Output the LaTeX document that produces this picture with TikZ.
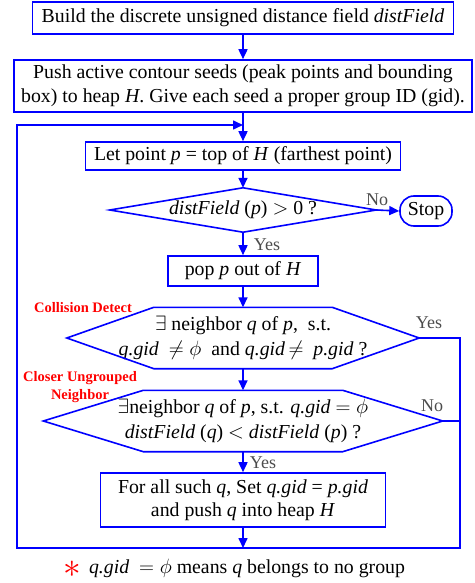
\documentclass[tikz,border=0pt]{standalone}
\usepackage{graphicx}
\usepackage{fontspec}
\setmainfont{Liberation Serif}
\usetikzlibrary{arrows.meta,calc}
\definecolor{fblue}{RGB}{0,0,255}
\begin{document}
\begin{tikzpicture}[x=1pt,y=-1pt,
  box/.style={draw=fblue, line width=1.6pt, inner sep=0pt, align=center, font=\fontsize{19.8}{23.5}\selectfont},
  shapein/.style={inner sep=0pt, align=center, font=\fontsize{19.8}{24.5}\selectfont},
  arr/.style={draw=fblue, line width=1.6pt, -{Triangle[length=10pt,width=9pt]}},
  ln/.style={draw=fblue, line width=1.6pt},
  lbl/.style={text=black!70, font=\fontsize{18}{18}\selectfont, inner sep=0pt},
  redlbl/.style={text=red, font=\fontsize{14.5}{18.5}\selectfont\bfseries, inner sep=0pt, align=center}]
\useasboundingbox (0,0) rectangle (474,583);

\node[box, minimum width=421pt, minimum height=32pt] (b1) at (243,18) {Build the discrete unsigned distance field \textit{distField}};
\node[box, minimum width=458pt, minimum height=52pt] (b2) at (243,86) {Push active contour seeds (peak points and bounding\\box) to heap \textit{H}. Give each seed a proper group ID (gid).};
\node[box, minimum width=315pt, minimum height=28pt] (b3) at (243,156) {Let point \textit{p} = top of \textit{H} (farthest point)};
\node[shapein, minimum width=266pt, minimum height=44pt] (d1) at (243,210) {\textit{distField} (\textit{p}) $>$ 0 ?};
\draw[ln] (d1.west) -- (d1.north) -- (d1.east) -- (d1.south) -- cycle;
\node[box, rounded corners=14pt, minimum width=52pt, minimum height=30pt] (stop) at (426,211) {Stop};
\node[box, minimum width=150pt, minimum height=30pt] (pop) at (243,271) {pop \textit{p} out of \textit{H}};

\node[shapein, minimum width=352pt, minimum height=61pt] (h1) at (243,338) {$\exists$ neighbor \textit{q} of \textit{p},\ \ s.t.\\\textit{q.gid}\ \ $\neq\phi$\ \ and \textit{q.gid}$\,\neq$\ \ \textit{p.gid} ?};
\draw[ln] (h1.west) -- ($(h1.north west)+(87,0)$) -- ($(h1.north east)+(-87,0)$) -- (h1.east) coordinate (h1r) -- ($(h1.south east)+(-87,0)$) -- ($(h1.south west)+(87,0)$) -- cycle;

\node[shapein, minimum width=399pt, minimum height=61pt] (h2) at (243,421) {$\exists$neighbor \textit{q} of \textit{p}, s.t. \textit{q.gid} $=\phi$\\\textit{distField} (\textit{q}) $<$ \textit{distField} (\textit{p}) ?};
\draw[ln] (h2.west) -- ($(h2.north west)+(100,0)$) -- ($(h2.north east)+(-100,0)$) -- (h2.east) coordinate (h2r) -- ($(h2.south east)+(-100,0)$) -- ($(h2.south west)+(100,0)$) -- cycle;

\node[box, minimum width=285pt, minimum height=54pt] (b5) at (243,500) {For all such \textit{q}, Set \textit{q.gid} = \textit{p.gid}\\and push \textit{q} into heap \textit{H}};

\coordinate (join) at (243,125);
\coordinate (loopBL) at (17,548);
\coordinate (loopBR) at (460,548);

\draw[arr] (b1.south) -- (b2.north);
\draw[arr] (b2.south) -- (b3.north);
\draw[arr] (b3.south) -- (d1.north);
\draw[arr] (d1.east) -- (stop.west);
\draw[arr] (d1.south) -- (pop.north);
\draw[arr] (pop.south) -- (h1.north);
\draw[arr] (h1.south) -- (h2.north);
\draw[arr] (h2.south) -- (b5.north);
\draw[arr] (b5.south) -- (b5.south |- loopBL);
\draw[arr] (h1r) -| (loopBR) -- (loopBL) |- (join);
\draw[ln] (h2r) -- (h2r -| loopBR);

\node[lbl] (noA) at (377,200) {No};
\node[lbl] (yesA) at (267,245) {Yes};
\node[lbl] (yesB) at (429,323) {Yes};
\node[lbl] (noB) at (432,406) {No};
\node[lbl] (yesC) at (263,463) {Yes};

\node[redlbl] (cd) at (83,308) {Collision Detect};
\node[redlbl] (cun) at (80,387) {Closer Ungrouped\\Neighbor};

\node[text=red, inner sep=0pt, font=\fontsize{20}{20}\selectfont] (star) at (72,569) {\scalebox{1.7}{$\ast$}};
\node[inner sep=0pt, font=\fontsize{19.8}{22}\selectfont] (foot) at (247,568) {\textit{q.gid}\ \ $=\phi$ means \textit{q} belongs to no group};
\end{tikzpicture}
\end{document}
